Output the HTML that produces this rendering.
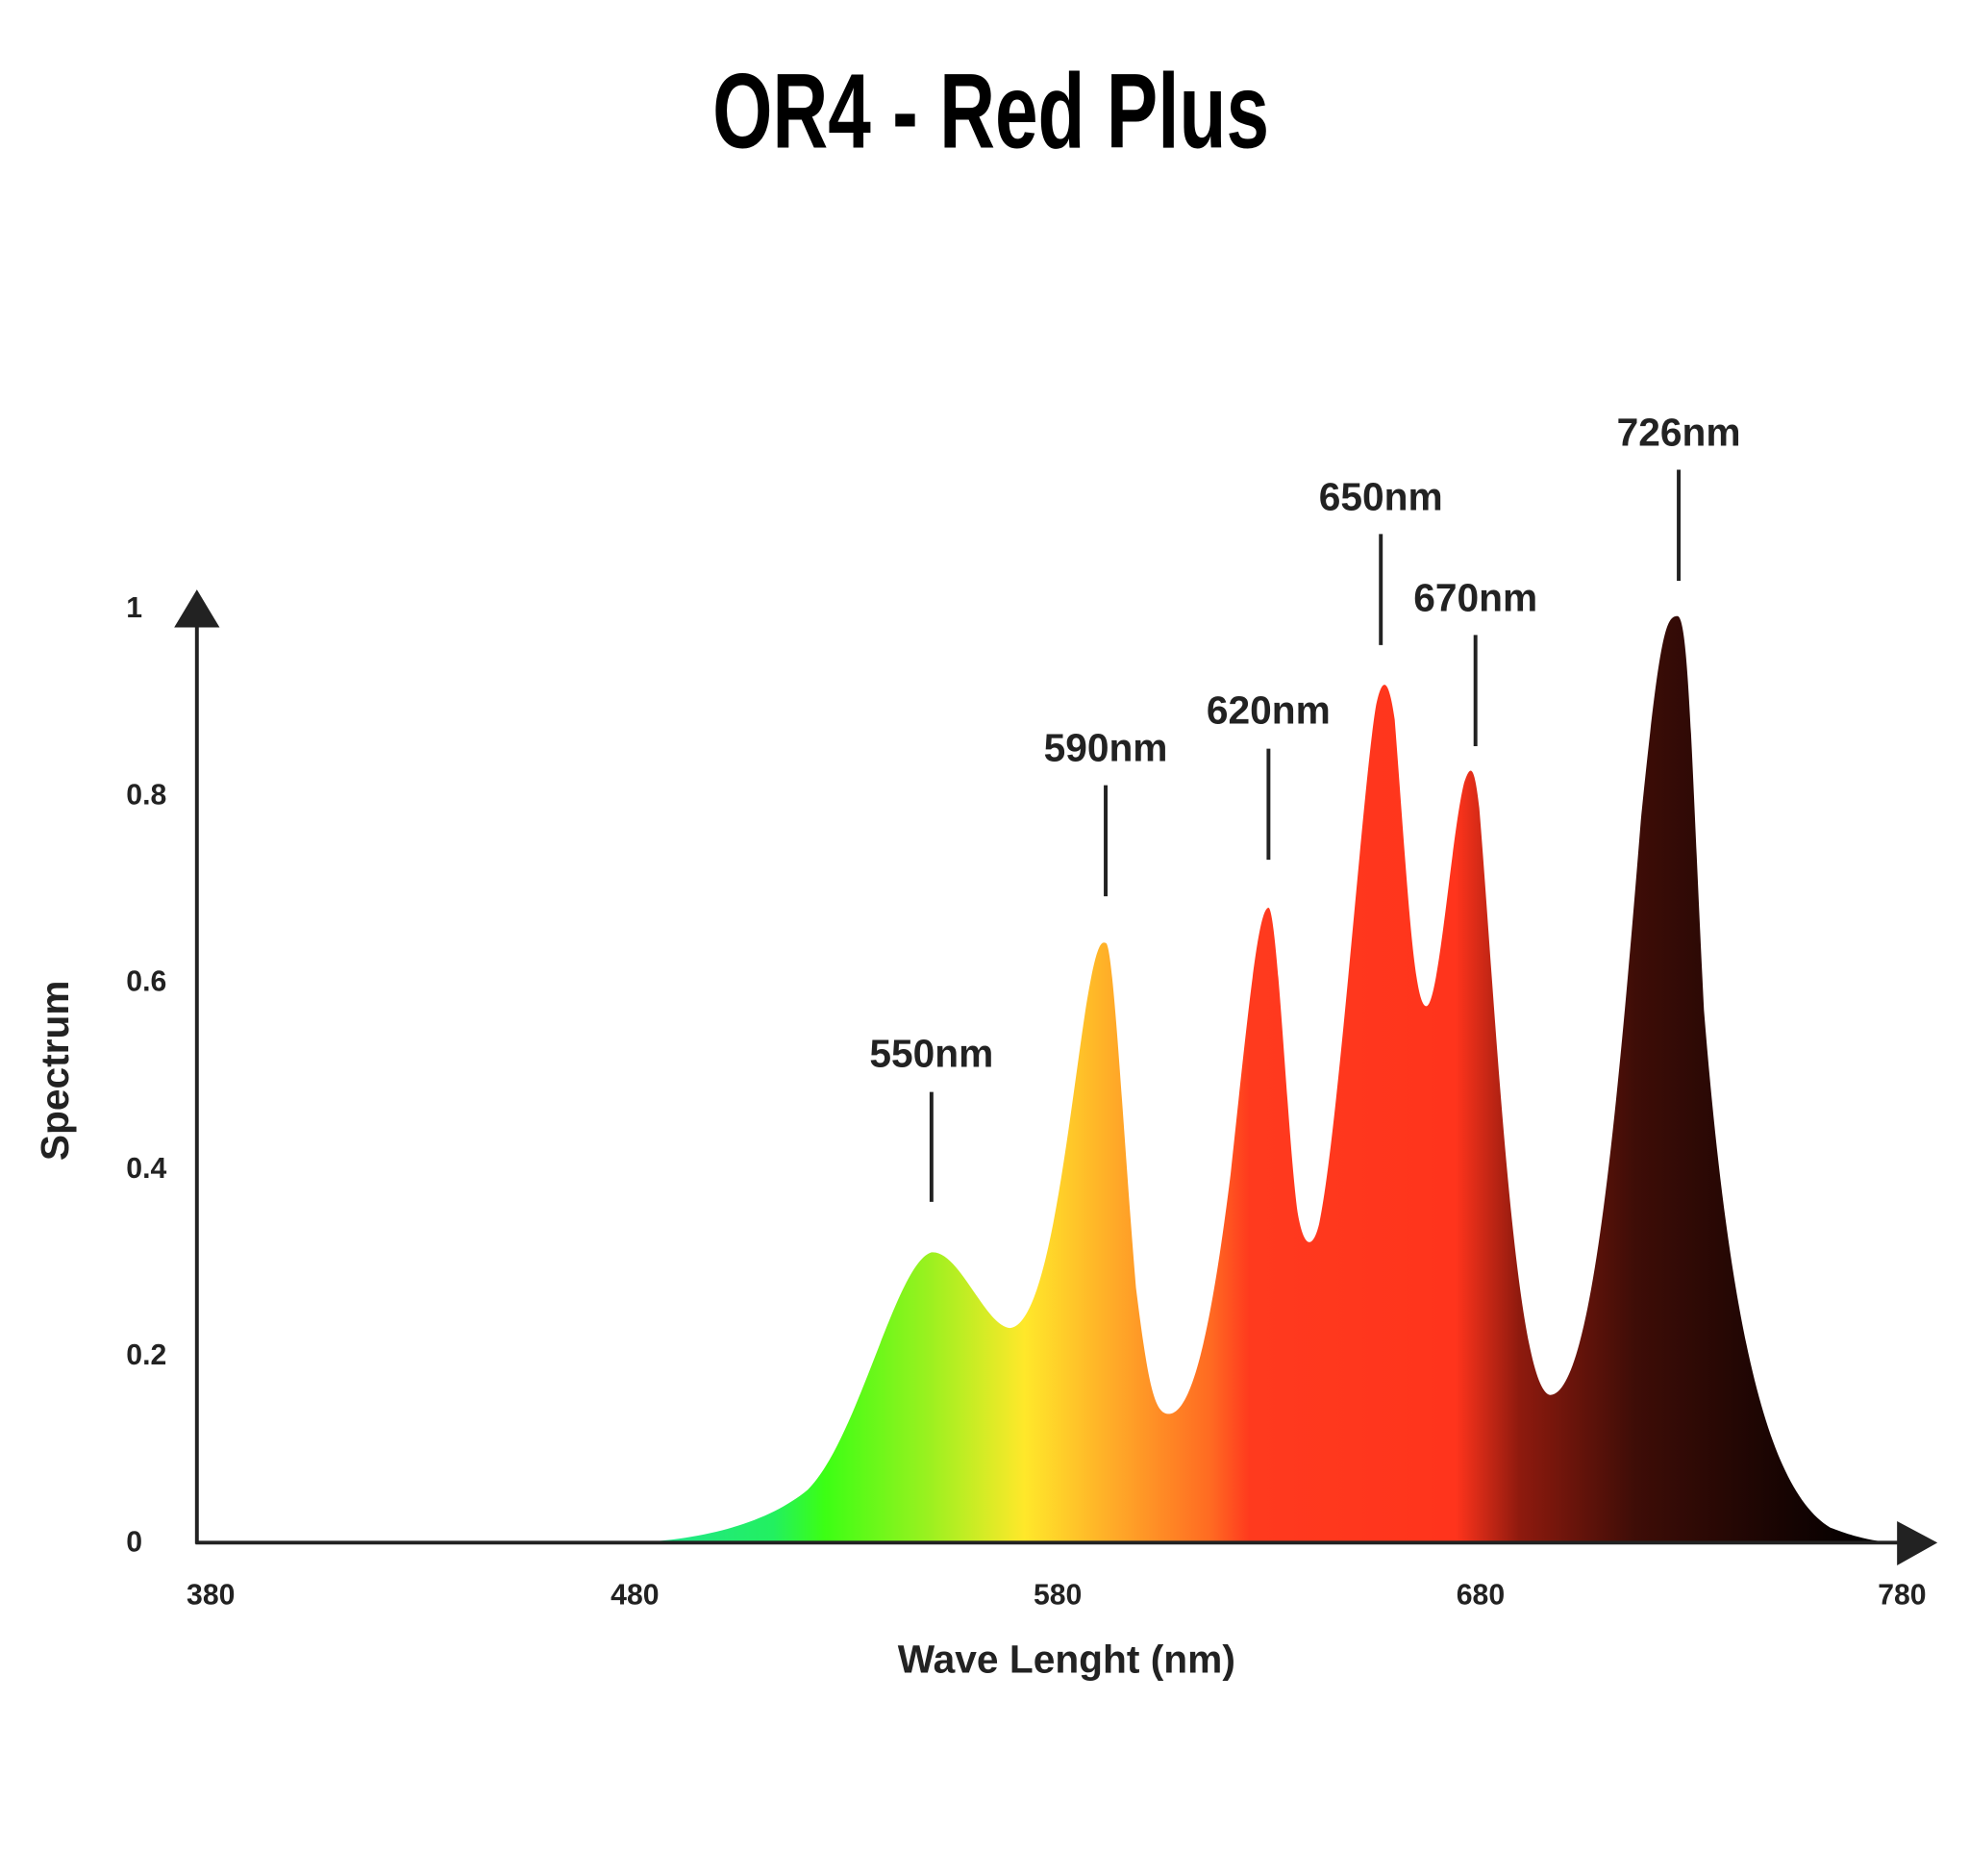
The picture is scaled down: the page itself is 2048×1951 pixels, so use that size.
<!DOCTYPE html>
<html><head><meta charset="utf-8"><style>html,body{margin:0;padding:0;background:#fff}svg{display:block}</style></head>
<body>
<svg width="2048" height="1951" viewBox="0 0 1560 1486" xmlns="http://www.w3.org/2000/svg" font-family="Liberation Sans, sans-serif" font-weight="bold">
<defs>
<linearGradient id="g" gradientUnits="userSpaceOnUse" x1="480" y1="0" x2="1500" y2="0">
<stop offset="0" stop-color="#20e0a0"/>
<stop offset="0.13" stop-color="#22f060"/>
<stop offset="0.17" stop-color="#3cff14"/>
<stop offset="0.255" stop-color="#a0f020"/>
<stop offset="0.325" stop-color="#ffe82a"/>
<stop offset="0.395" stop-color="#ffaa28"/>
<stop offset="0.47" stop-color="#ff6a22"/>
<stop offset="0.5" stop-color="#ff3a1e"/>
<stop offset="0.66" stop-color="#ff341c"/>
<stop offset="0.71" stop-color="#8e1a0e"/>
<stop offset="0.8" stop-color="#3e0d07"/>
<stop offset="0.97" stop-color="#050000"/>
</linearGradient>
</defs>
<text x="785" y="117" text-anchor="middle" font-size="84" textLength="441" lengthAdjust="spacingAndGlyphs" fill="#000">OR4 - Red Plus</text>
<path fill="url(#g)" d="M156,1222 L500,1222 C560,1220 610,1205 640,1180 C680,1140 710,1000 738,992 C760,990 780,1050 800,1052 C830,1050 845,900 860,800 C868,750 872,745 876,747 C882,745 890,900 900,1020 C910,1100 915,1120 926,1120 C945,1120 960,1050 975,930 C990,790 997,720 1005,719 C1012,720 1020,900 1028,960 C1033,990 1040,990 1045,970 C1060,900 1080,620 1090,560 C1095,535 1100,535 1105,570 C1115,700 1120,797 1130,797 C1140,797 1150,660 1160,620 C1165,605 1168,605 1172,640 C1185,800 1200,1100 1228,1105 C1260,1105 1280,900 1300,650 C1315,500 1320,488 1329,488 C1338,488 1340,600 1350,800 C1370,1050 1400,1180 1450,1210 C1480,1222 1500,1222 1505,1222 Z"/>
<g stroke="#222" stroke-width="3" fill="none">
<line x1="156" y1="490" x2="156" y2="1223"/>
<line x1="155" y1="1222" x2="1508" y2="1222"/>
<line x1="738" y1="865" x2="738" y2="952"/>
<line x1="876" y1="622" x2="876" y2="710"/>
<line x1="1005" y1="593" x2="1005" y2="681"/>
<line x1="1094" y1="423" x2="1094" y2="511"/>
<line x1="1169" y1="503" x2="1169" y2="591"/>
<line x1="1330" y1="372" x2="1330" y2="460"/>
</g>
<polygon points="138,497 174,497 156,467" fill="#222"/>
<polygon points="1503,1205 1503,1240 1535,1222" fill="#222"/>
<g fill="#222" font-size="31" text-anchor="middle">
<text x="738" y="845">550nm</text>
<text x="876" y="603">590nm</text>
<text x="1005" y="573">620nm</text>
<text x="1094" y="404">650nm</text>
<text x="1169" y="484">670nm</text>
<text x="1330" y="353">726nm</text>
<text x="845" y="1325">Wave Lenght (nm)</text>
<text transform="translate(54,848) rotate(-90)">Spectrum</text>
</g>
<g fill="#222" font-size="23">
<text x="100" y="489">1</text>
<text x="100" y="637">0.8</text>
<text x="100" y="785">0.6</text>
<text x="100" y="933">0.4</text>
<text x="100" y="1081">0.2</text>
<text x="100" y="1229">0</text>
</g>
<g fill="#222" font-size="23" text-anchor="middle">
<text x="167" y="1271">380</text>
<text x="503" y="1271">480</text>
<text x="838" y="1271">580</text>
<text x="1173" y="1271">680</text>
<text x="1507" y="1271">780</text>
</g>
</svg>
</body></html>
